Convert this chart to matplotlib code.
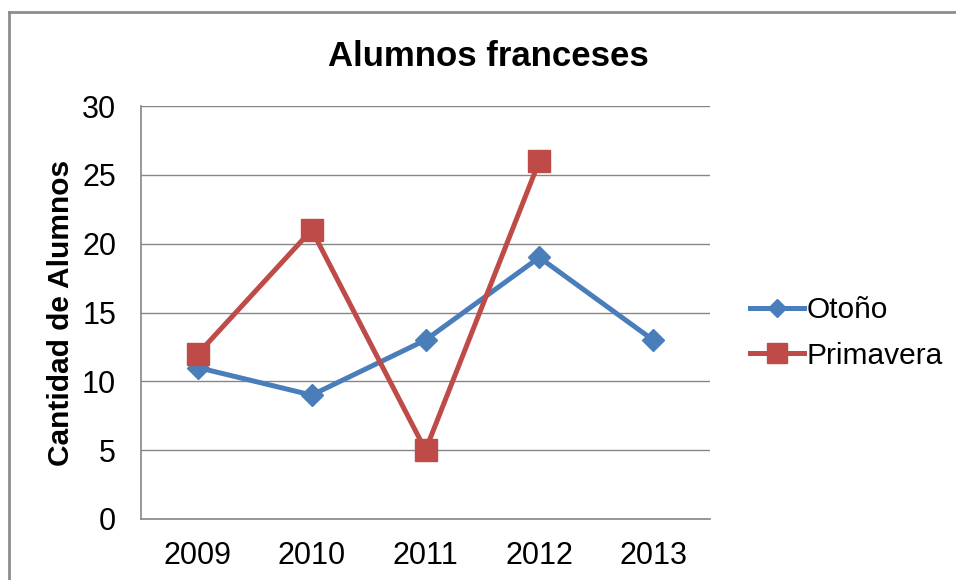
import matplotlib.pyplot as plt
from matplotlib.lines import Line2D

plt.rcParams['font.family'] = ['Liberation Sans', 'DejaVu Sans']

# datos
years = ['2009', '2010', '2011', '2012', '2013']
otono = [11, 9, 13, 19, 13]
primavera = [12, 21, 5, 26]

fig = plt.figure(figsize=(9.56, 5.8), dpi=100)
ax = fig.add_axes([0.1475, 0.1052, 0.5952, 0.712])

x = list(range(len(years)))
ax.plot(x, otono, color='#4A7EBB', lw=3.6, marker='D', ms=11.5,
        label='Otoño', zorder=3)
ax.plot(x[:len(primavera)], primavera, color='#BE4B48', lw=3.6, marker='s',
        ms=15.5, label='Primavera', zorder=4)

ax.set_xlim(-0.5, 4.5)
ax.set_ylim(0, 30)
ax.set_yticks(range(0, 31, 5))
ax.set_xticks(x)
ax.set_xticklabels(years)
ax.tick_params(labelsize=22, length=0)
ax.tick_params(axis='x', pad=16)
ax.tick_params(axis='y', pad=18)
ax.yaxis.grid(True, color='#868686', lw=1)
ax.set_axisbelow(True)
for s in ['top', 'right']:
    ax.spines[s].set_visible(False)
for s in ['left', 'bottom']:
    ax.spines[s].set_color('#868686')
    ax.spines[s].set_linewidth(1.2)

ax.set_ylabel('Cantidad de Alumnos', fontsize=21.5, fontweight='bold', labelpad=5)
fig.text(0.511, 0.902, 'Alumnos franceses', ha='center', va='center',
         fontsize=25, fontweight='bold')

leg = fig.legend(*ax.get_legend_handles_labels(), loc='center left',
                 bbox_to_anchor=(0.7845, 0.426), frameon=False, borderpad=0,
                 borderaxespad=0, fontsize=21.5, handlelength=1.8,
                 handletextpad=0.1, labelspacing=0.6)
leg.legend_handles[0].set_markersize(9)
leg.legend_handles[1].set_markersize(14)

# marco exterior
fig.add_artist(Line2D([0.009, 0.009], [0, 0.979], color='#8c8c8c', lw=2,
                      transform=fig.transFigure))
fig.add_artist(Line2D([0.009, 1], [0.979, 0.979], color='#8c8c8c', lw=2,
                      transform=fig.transFigure))

fig.savefig('out.png', dpi=100)
